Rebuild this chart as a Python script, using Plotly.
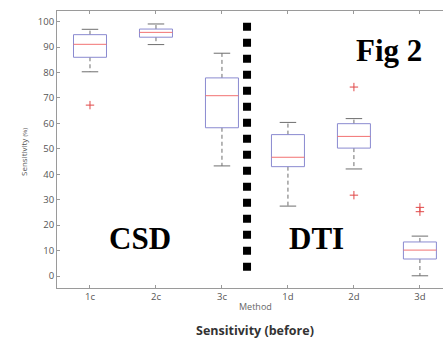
import plotly.graph_objects as go

# ---- data ----
methods = ["1c", "2c", "3c", "1d", "2d", "3d"]
lower_whisker = [80.3, 91.0, 43.3, 27.5, 42.1, 0.1]
q1 = [86.0, 93.9, 58.3, 43.0, 50.3, 6.7]
median = [91.1, 95.8, 70.9, 46.7, 54.9, 10.2]
q3 = [94.9, 97.1, 77.9, 55.6, 59.9, 13.4]
upper_whisker = [97.0, 99.1, 87.6, 60.4, 61.9, 15.7]
outlier_method = ["1c", "2d", "2d", "3d", "3d"]
outlier_value = [67.2, 74.3, 31.8, 27.0, 25.3]
y_ticks = [0, 10, 20, 30, 40, 50, 60, 70, 80, 90, 100]

# ---- styling ----
BOX_HALF = 0.25
CAP_HALF = 0.125
BOX_COLOR = "#8a8ad0"
MED_COLOR = "#f27272"
WHISK_COLOR = "#6e6e6e"
OUT_COLOR = "#e04848"
AXIS_COLOR = "#9a9a9a"
TICK_FONT = dict(family="Open Sans", size=9.5, color="#555555")

pos = {m: i + 1 for i, m in enumerate(methods)}

bx, by, mx, my, wx, wy, cx, cy = [], [], [], [], [], [], [], []
for m, lw, a, md, b, uw in zip(methods, lower_whisker, q1, median, q3, upper_whisker):
    p = pos[m]
    bx += [p - BOX_HALF, p + BOX_HALF, p + BOX_HALF, p - BOX_HALF, p - BOX_HALF, None]
    by += [a, a, b, b, a, None]
    mx += [p - BOX_HALF, p + BOX_HALF, None]
    my += [md, md, None]
    wx += [p, p, None, p, p, None]
    wy += [b, uw, None, a, lw, None]
    cx += [p - CAP_HALF, p + CAP_HALF, None, p - CAP_HALF, p + CAP_HALF, None]
    cy += [uw, uw, None, lw, lw, None]

fig = go.Figure()
fig.add_trace(go.Scatter(x=wx, y=wy, mode="lines", line=dict(color=WHISK_COLOR, width=1, dash="4px,3px"), hoverinfo="skip"))
fig.add_trace(go.Scatter(x=cx, y=cy, mode="lines", line=dict(color=WHISK_COLOR, width=1), hoverinfo="skip"))
fig.add_trace(go.Scatter(x=bx, y=by, mode="lines", line=dict(color=BOX_COLOR, width=1), hoverinfo="skip"))
fig.add_trace(go.Scatter(x=mx, y=my, mode="lines", line=dict(color=MED_COLOR, width=1), hoverinfo="skip"))
fig.add_trace(go.Scatter(x=[pos[m] for m in outlier_method], y=outlier_value, mode="markers",
                         marker=dict(symbol="cross-thin", size=6, line=dict(color=OUT_COLOR, width=1)),
                         hoverinfo="skip"))

# thick dotted separator between CSD and DTI groups
fig.add_shape(type="line", xref="x", yref="y", x0=3.38, x1=3.38, y0=99.6, y1=2.1,
              line=dict(color="black", width=8, dash="dot"))

serif = dict(family="Liberation Serif", size=31, color="black")
C = dict(xref="paper", yref="paper", showarrow=False, xanchor="center", yanchor="middle")
fig.add_annotation(x=0.86, y=0.856, text="<b>Fig 2</b>", font=serif, **C)
fig.add_annotation(x=0.216, y=0.18, text="<b>CSD</b>", font=serif, **C)
fig.add_annotation(x=0.671, y=0.18, text="<b>DTI</b>", font=serif, **C)

fig.add_annotation(x=-0.0855, y=0.491, textangle=-90,
                   text="Sensitivity <span style='font-size:6px'>(%)</span>",
                   font=dict(family="Open Sans", size=8, color="#555555"), **C)
fig.add_annotation(x=0.513, y=-0.0675, text="Method",
                   font=dict(family="Open Sans", size=9, color="#666666"), **C)
fig.add_annotation(x=0.513, y=-0.155, text="<b>Sensitivity (before)</b>",
                   font=dict(family="Open Sans", size=12.5, color="#333333"), **C)

fig.update_layout(
    width=443, height=339,
    margin=dict(l=57, r=0, t=11, b=51),
    paper_bgcolor="white", plot_bgcolor="white",
    showlegend=False,
    xaxis=dict(range=[0.5, 6.35], tickvals=[pos[m] for m in methods], ticktext=methods,
               showgrid=False, zeroline=False, showline=True, linecolor=AXIS_COLOR, linewidth=1,
               mirror="ticks", ticks="inside", ticklen=3, tickcolor=AXIS_COLOR, tickfont=TICK_FONT),
    yaxis=dict(range=[-4.7, 104.2], tickvals=y_ticks,
               showgrid=False, zeroline=False, showline=True, linecolor=AXIS_COLOR, linewidth=1,
               ticks="inside", ticklen=3, tickcolor=AXIS_COLOR, tickfont=TICK_FONT),
)

fig.write_html("out.html", config={"displayModeBar": False},
               post_script="document.body.style.margin='0';")
